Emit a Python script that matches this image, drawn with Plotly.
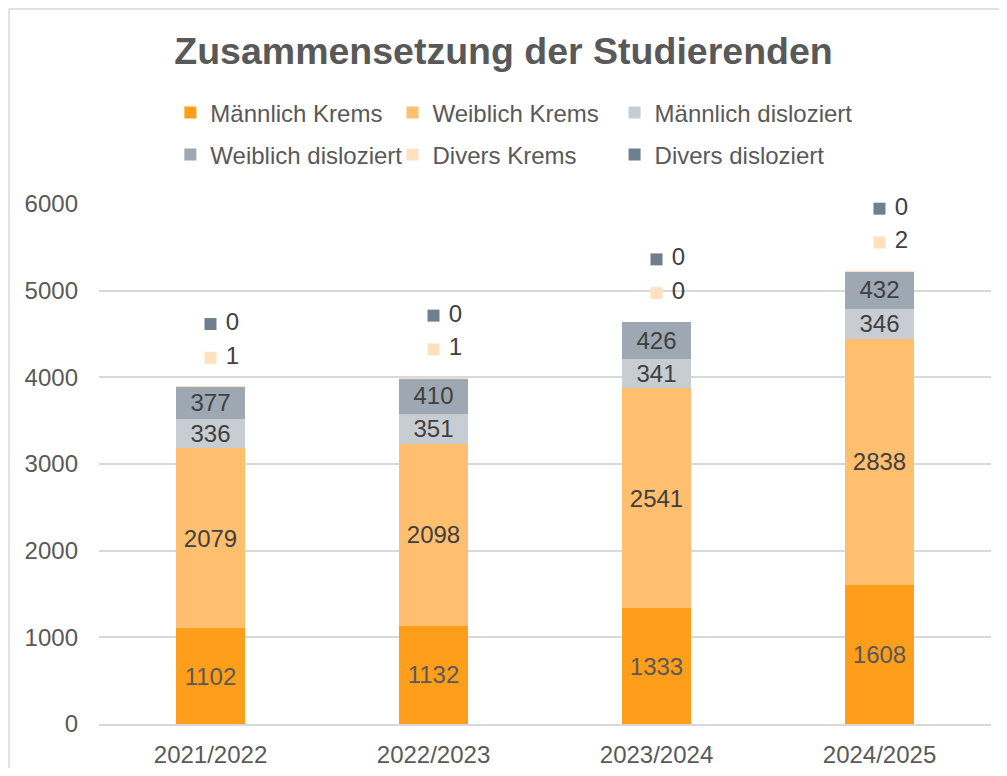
import plotly.graph_objects as go

# Semester categories and student counts per group
semester = ["2021/2022", "2022/2023", "2023/2024", "2024/2025"]
maennlich_krems = [1102, 1132, 1333, 1608]
weiblich_krems = [2079, 2098, 2541, 2838]
maennlich_dislo = [336, 351, 341, 346]
weiblich_dislo = [377, 410, 426, 432]
divers_krems = [1, 1, 0, 2]
divers_dislo = [0, 0, 0, 0]

colors = {
    "mk": "#FF9E1B",
    "wk": "#FFBF6E",
    "md": "#C8CDD3",
    "wd": "#9DA8B2",
    "dk": "#FFE1C0",
    "dd": "#707F8D",
}

FONT = "Liberation Sans, Arial"
txt_font = dict(family=FONT, size=24, color="#404040")

fig = go.Figure()

# name, values, colour, inside labels, legend id
series = [
    ("Männlich Krems", maennlich_krems, colors["mk"], True, "legend"),
    ("Weiblich Krems", weiblich_krems, colors["wk"], True, "legend2"),
    ("Männlich disloziert", maennlich_dislo, colors["md"], True, "legend3"),
    ("Weiblich disloziert", weiblich_dislo, colors["wd"], True, "legend4"),
    ("Divers Krems", divers_krems, colors["dk"], False, "legend5"),
    ("Divers disloziert", divers_dislo, colors["dd"], False, "legend6"),
]

for name, vals, col, lbl, leg in series:
    fig.add_trace(go.Bar(
        x=semester, y=vals, name=name, legend=leg,
        marker=dict(color=col, line=dict(width=0)),
        text=[str(v) for v in vals] if lbl else None,
        textposition="inside" if lbl else "none",
        insidetextanchor="middle",
        textfont=dict(family=FONT, size=24,
                      color="#595959" if name == "Männlich Krems" else "#404040"),
        hoverinfo="x+y+name",
    ))

# labels of the tiny "Divers" segments sit above the stack with a legend key
totals = [a + b + c + d + e + f for a, b, c, d, e, f in zip(
    maennlich_krems, weiblich_krems, maennlich_dislo, weiblich_dislo, divers_krems, divers_dislo)]

fig.add_trace(go.Scatter(
    x=semester, y=[t + 330 for t in totals], mode="markers+text",
    marker=dict(symbol="square", size=12, color=colors["dk"]),
    text=[" " + str(v) for v in divers_krems], textposition="middle right",
    textfont=txt_font, showlegend=False, cliponaxis=False,
))
fig.add_trace(go.Scatter(
    x=semester, y=[t + 720 for t in totals], mode="markers+text",
    marker=dict(symbol="square", size=12, color=colors["dd"]),
    text=[" " + str(v) for v in divers_dislo], textposition="middle right",
    textfont=txt_font, showlegend=False, cliponaxis=False,
))

# one legend per entry so the 3x2 grid can be placed exactly
col_x = [0.080, 0.329, 0.578]
row_y = [1 + 91 / 520, 1 + 49 / 520]
legends = {}
for i in range(6):
    key = "legend" if i == 0 else "legend%d" % (i + 1)
    legends[key] = dict(orientation="h", x=col_x[i % 3], xanchor="left",
                        y=row_y[i // 3], yanchor="middle",
                        font=dict(family=FONT, size=24, color="#595959"),
                        bgcolor="rgba(0,0,0,0)")

fig.update_layout(
    barmode="stack",
    bargap=0.69,
    width=991, height=760,
    margin=dict(l=91, r=8, t=196, b=44),
    paper_bgcolor="white", plot_bgcolor="white",
    font=dict(family=FONT, color="#595959"),
    title=dict(text="<b>Zusammensetzung der Studierenden</b>",
               x=0.5, xanchor="center", y=1 - 43 / 760, yanchor="middle",
               font=dict(size=37.5, color="#595959")),
    uniformtext=dict(minsize=24, mode="show"),
    xaxis=dict(showline=True, linecolor="#D9D9D9", linewidth=1.5, ticks="",
               ticklabelstandoff=8, automargin=False,
               tickfont=dict(size=24, color="#595959")),
    yaxis=dict(range=[0, 6000], dtick=1000, showgrid=True, gridcolor="#D9D9D9",
               gridwidth=1.5, zeroline=False, ticks="", ticklabelstandoff=20,
               automargin=False, tickfont=dict(size=24, color="#595959")),
    shapes=[dict(type="rect", xref="paper", yref="paper",
                 x0=-90 / 892, x1=1.05, y0=-0.2, y1=1 + 195 / 520,
                 line=dict(color="#D9D9D9", width=1.5), fillcolor="rgba(0,0,0,0)")],
    **legends,
)

fig.write_html("out.html")
